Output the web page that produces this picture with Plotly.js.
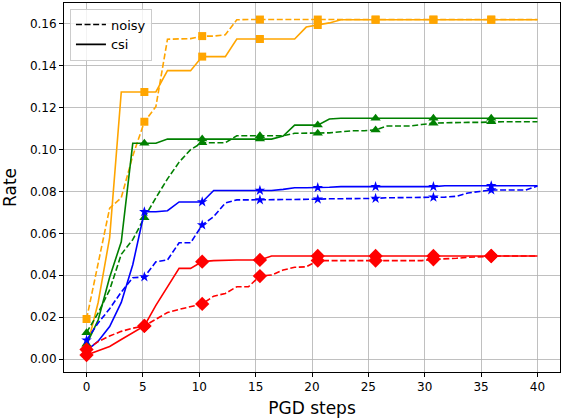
<!DOCTYPE html>
<html>
<head>
<meta charset="utf-8">
<script src="https://cdn.plot.ly/plotly-3.0.1.min.js"></script>
<style>html,body{margin:0;padding:0;background:#fff;}#chart{width:563px;height:420px;}</style>
</head>
<body>
<div id="chart"></div>
<script>
// PGD steps (40 evenly spaced points from 0 to 40)
const steps = [0, 1.03, 2.05, 3.08, 4.10, 5.13, 6.15, 7.18, 8.21, 9.23,
  10.26, 11.28, 12.31, 13.33, 14.36, 15.38, 16.41, 17.44, 18.46, 19.49,
  20.51, 21.54, 22.56, 23.59, 24.62, 25.64, 26.67, 27.69, 28.72, 29.74,
  30.77, 31.79, 32.82, 33.85, 34.87, 35.90, 36.92, 37.95, 38.97, 40];

const orangeCsi = [0.005, 0.027, 0.058, 0.1275, 0.1275, 0.1275, 0.1275, 0.1377, 0.1377, 0.1377,
  0.1444, 0.1444, 0.1444, 0.1528, 0.1528, 0.1528, 0.1528, 0.1528, 0.1528, 0.1585,
  0.1595, 0.1605, 0.162, 0.162, 0.162, 0.162, 0.162, 0.162, 0.162, 0.162,
  0.162, 0.162, 0.162, 0.162, 0.162, 0.162, 0.162, 0.162, 0.162, 0.162];
const orangeNoisy = [0.0191, 0.046, 0.072, 0.077, 0.097, 0.1133, 0.1205, 0.1527, 0.153, 0.153,
  0.1542, 0.1542, 0.1548, 0.162, 0.1621, 0.1621, 0.1621, 0.1621, 0.1621, 0.1621,
  0.1621, 0.1621, 0.1621, 0.1621, 0.1621, 0.1621, 0.1621, 0.1621, 0.1621, 0.1621,
  0.1621, 0.1621, 0.1621, 0.1621, 0.1621, 0.1621, 0.1621, 0.1621, 0.1621, 0.1621];

const greenCsi = [0.007, 0.0186, 0.039, 0.056, 0.103, 0.103, 0.103, 0.105, 0.105, 0.105,
  0.105, 0.105, 0.105, 0.105, 0.105, 0.105, 0.105, 0.1065, 0.1117, 0.1117,
  0.1117, 0.1146, 0.115, 0.115, 0.115, 0.115, 0.115, 0.115, 0.115, 0.115,
  0.115, 0.115, 0.115, 0.115, 0.115, 0.115, 0.115, 0.115, 0.115, 0.115];
const greenNoisy = [0.0126, 0.022, 0.033, 0.050, 0.057, 0.0675, 0.077, 0.086, 0.094, 0.100,
  0.1033, 0.1033, 0.1033, 0.1066, 0.1066, 0.1066, 0.1066, 0.1066, 0.1078, 0.1078,
  0.1078, 0.108, 0.1085, 0.109, 0.109, 0.1094, 0.1113, 0.1113, 0.1113, 0.112,
  0.1126, 0.1128, 0.113, 0.113, 0.113, 0.1133, 0.1133, 0.1133, 0.1133, 0.1133];

const blueCsi = [0.004, 0.0085, 0.0155, 0.027, 0.045, 0.0703, 0.0703, 0.0708, 0.075, 0.075,
  0.075, 0.0805, 0.0805, 0.0805, 0.0805, 0.0805, 0.0805, 0.081, 0.0818, 0.0818,
  0.0818, 0.082, 0.0823, 0.0823, 0.0823, 0.0823, 0.0823, 0.0823, 0.0823, 0.0823,
  0.0823, 0.0827, 0.0827, 0.0827, 0.0827, 0.0827, 0.0827, 0.0827, 0.0827, 0.0827];
const blueNoisy = [0.009, 0.0172, 0.024, 0.032, 0.0388, 0.0392, 0.0464, 0.0473, 0.0555, 0.0555,
  0.064, 0.068, 0.0745, 0.076, 0.076, 0.076, 0.0762, 0.0763, 0.0763, 0.0763,
  0.0763, 0.0765, 0.0765, 0.0765, 0.0765, 0.0767, 0.077, 0.077, 0.077, 0.077,
  0.0772, 0.0773, 0.0777, 0.0793, 0.080, 0.0807, 0.0807, 0.0807, 0.0807, 0.0826];

const redCsi = [0.0019, 0.004, 0.006, 0.0093, 0.0125, 0.0158, 0.0256, 0.0346, 0.0433, 0.0433,
  0.0465, 0.047, 0.0473, 0.0473, 0.0473, 0.0473, 0.0492, 0.0492, 0.0492, 0.0492,
  0.0492, 0.0492, 0.0492, 0.0492, 0.0492, 0.0492, 0.0492, 0.0492, 0.0492, 0.0492,
  0.0492, 0.0492, 0.0492, 0.0492, 0.0492, 0.0492, 0.0492, 0.0492, 0.0492, 0.0492];
const redNoisy = [0.0046, 0.0083, 0.011, 0.0132, 0.0147, 0.0158, 0.019, 0.0222, 0.0237, 0.025,
  0.0263, 0.030, 0.0313, 0.0345, 0.0345, 0.0396, 0.0401, 0.0425, 0.0438, 0.0440,
  0.047, 0.047, 0.047, 0.047, 0.047, 0.047, 0.047, 0.047, 0.047, 0.047,
  0.0476, 0.0478, 0.0481, 0.0486, 0.0489, 0.0492, 0.0492, 0.0492, 0.0492, 0.0492];

const legendLabels = ['noisy', 'csi'];
const markEvery = 5;

const series = [
  {y: orangeNoisy, color: '#FFA500', dash: true, symbol: 'square', size: 8},
  {y: orangeCsi, color: '#FFA500', dash: false, symbol: 'square', size: 8},
  {y: greenNoisy, color: '#008000', dash: true, symbol: 'triangle-up', size: 9},
  {y: greenCsi, color: '#008000', dash: false, symbol: 'triangle-up', size: 9},
  {y: blueNoisy, color: '#0000FF', dash: true, symbol: 'star', size: 8},
  {y: blueCsi, color: '#0000FF', dash: false, symbol: 'star', size: 8},
  {y: redNoisy, color: '#FF0000', dash: true, symbol: 'diamond', size: 11},
  {y: redCsi, color: '#FF0000', dash: false, symbol: 'diamond', size: 11}
];

const DASH = '6px,2.6px';
const traces = [];
series.forEach(s => {
  traces.push({
    x: steps, y: s.y, type: 'scatter', mode: 'lines', showlegend: false,
    line: {color: s.color, width: 1.6, dash: s.dash ? DASH : 'solid'},
    hoverinfo: 'skip'
  });
  const mx = steps.filter((_, i) => i % markEvery === 0);
  const my = s.y.filter((_, i) => i % markEvery === 0);
  traces.push({
    x: mx, y: my, type: 'scatter', mode: 'markers', showlegend: false,
    marker: {color: s.color, symbol: s.symbol, size: s.size, line: {width: 0}}
  });
});
// legend entries
traces.push({x: [null], y: [null], type: 'scatter', mode: 'lines', name: legendLabels[0],
  line: {color: '#000', width: 1.6, dash: DASH}});
traces.push({x: [null], y: [null], type: 'scatter', mode: 'lines', name: legendLabels[1],
  line: {color: '#000', width: 1.6}});

const font = 'DejaVu Sans, sans-serif';
const layout = {
  width: 563, height: 420,
  margin: {l: 64, r: 3, t: 3, b: 48},
  paper_bgcolor: '#fff', plot_bgcolor: '#fff',
  font: {family: font, size: 12, color: '#000'},
  xaxis: {
    range: [-2, 42], tickvals: [0, 5, 10, 15, 20, 25, 30, 35, 40],
    showgrid: true, gridcolor: '#b0b0b0', gridwidth: 0.8,
    zeroline: false, showline: true, linecolor: '#000', linewidth: 1, mirror: true,
    ticks: 'outside', ticklen: 4, tickcolor: '#000', tickfont: {size: 12},
    title: {text: 'PGD steps', font: {size: 17}, standoff: 8}
  },
  yaxis: {
    range: [-0.0062, 0.170], tickvals: [0, 0.02, 0.04, 0.06, 0.08, 0.10, 0.12, 0.14, 0.16],
    tickformat: '.2f',
    showgrid: true, gridcolor: '#b0b0b0', gridwidth: 0.8,
    zeroline: false, showline: true, linecolor: '#000', linewidth: 1, mirror: true,
    ticks: 'outside', ticklen: 4, tickcolor: '#000', tickfont: {size: 12},
    title: {text: 'Rate', font: {size: 17}, standoff: 8}
  },
  legend: {
    x: 0.012, y: 0.985, xanchor: 'left', yanchor: 'top',
    bgcolor: 'rgba(255,255,255,0.8)', bordercolor: '#cccccc', borderwidth: 1,
    font: {size: 13}, itemwidth: 30, tracegroupgap: 0
  },
  showlegend: true
};
Plotly.newPlot('chart', traces, layout, {displayModeBar: false, staticPlot: true});
</script>
</body>
</html>
